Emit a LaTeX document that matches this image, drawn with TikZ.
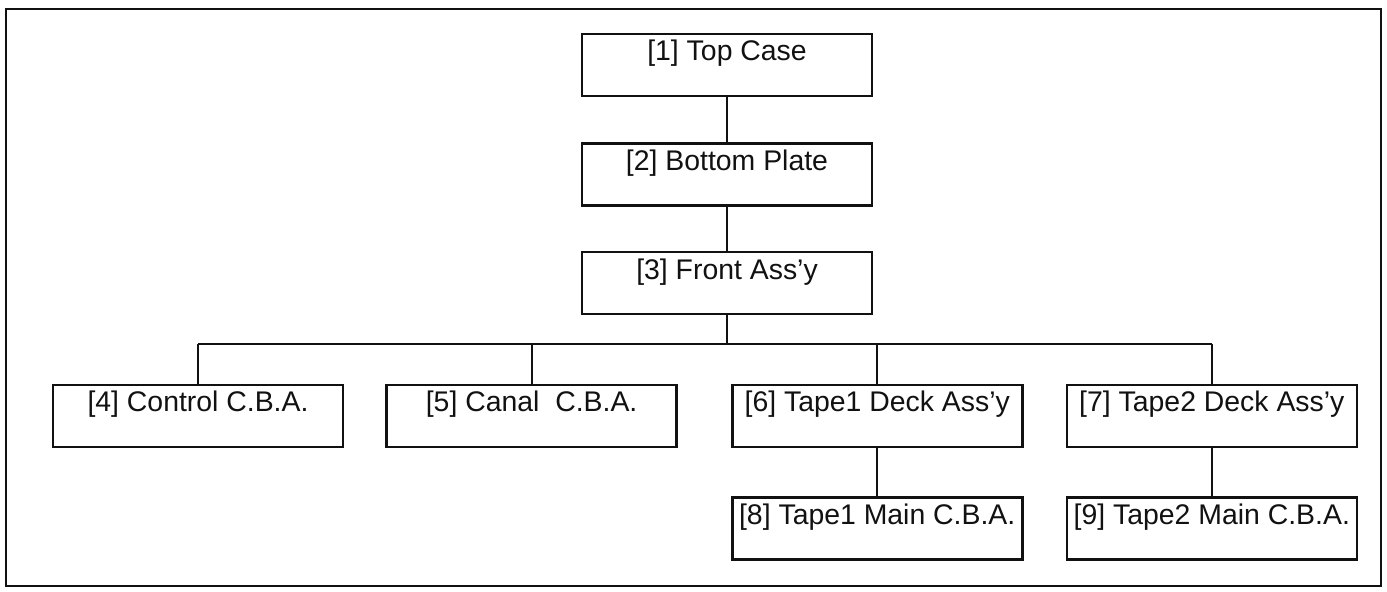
\documentclass[tikz,border=0pt]{standalone}
\usepackage{fontspec}
\setmainfont{Liberation Sans}
\usetikzlibrary{positioning}
\definecolor{ink}{HTML}{111111}

\begin{document}
\begin{tikzpicture}[
    x=0.5pt, y=-0.5pt,
    font=\fontsize{14.2}{16}\selectfont,
    % Styles
    partbox/.style={
        rectangle,
        draw=ink,
        text=ink,
        line width=1.3pt,
        minimum width=145pt,
        inner xsep=0pt,
        inner ysep=0pt,
        text height=13.5pt,
        text depth=17.5pt
    },
    link/.style={
        draw=ink,
        line width=1pt
    },
    frameline/.style={
        draw=ink,
        line width=1.1pt
    }
]
    \useasboundingbox (0,0) rectangle (1387,592);

    % ================= MAIN CHAIN =================
    \node[partbox] at (727,65) (topcase) {[1] Top Case};
    \node[partbox, below=22.5pt of topcase] (bottomplate) {[2] Bottom Plate};
    \node[partbox, below=22pt of bottomplate] (front) {[3] Front Ass'y};

    % ================= SUB ASSEMBLIES =================
    \node[partbox] at (198,416) (control) {[4] Control C.B.A.};
    \node[partbox, right=20.5pt of control] (canal) {[5] Canal\ \ C.B.A.};
    \node[partbox, right=26.5pt of canal] (deckone) {[6] Tape1 Deck Ass'y};
    \node[partbox, right=21pt of deckone] (decktwo) {[7] Tape2 Deck Ass'y};

    % ================= MAIN BOARDS =================
    \node[partbox, below=24pt of deckone] (mainone) {[8] Tape1 Main C.B.A.};
    \node[partbox, below=24pt of decktwo] (maintwo) {[9] Tape2 Main C.B.A.};

    % ================= CONNECTIONS =================
    \coordinate (bus) at (725,344);
    \draw[link] (topcase) -- (bottomplate);
    \draw[link] (bottomplate) -- (front);
    \draw[link] (front.south) -- (front.south |- bus);
    \draw[link] (control.north |- bus) -- (decktwo.north |- bus);
    \foreach \part in {control, canal, deckone, decktwo}
        \draw[link] (\part.north) -- (\part.north |- bus);
    \draw[link] (deckone) -- (mainone);
    \draw[link] (decktwo) -- (maintwo);

    % ================= FRAME =================
    \draw[frameline] (6,9) rectangle (1381,586);

\end{tikzpicture}
\end{document}
